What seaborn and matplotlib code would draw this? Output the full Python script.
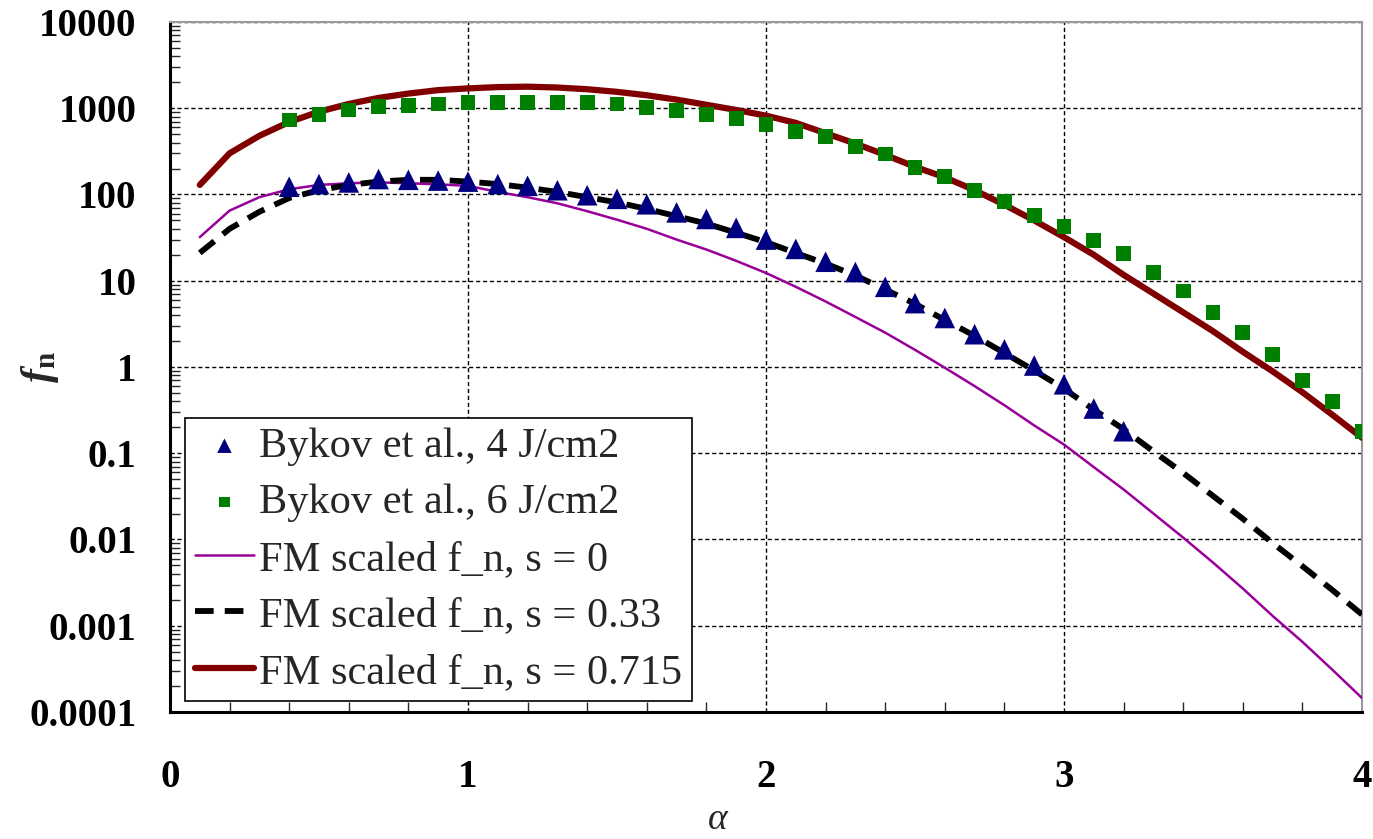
import numpy as np
import pandas as pd
import matplotlib
matplotlib.use("Agg")
import matplotlib.pyplot as plt
import matplotlib.ticker as mticker
import seaborn as sns

# ---------------- data ----------------
x_tri = [0.4, 0.5, 0.6, 0.7, 0.8, 0.9, 1.0, 1.1, 1.2, 1.3, 1.4, 1.5, 1.6, 1.7, 1.8,
         1.9, 2.0, 2.1, 2.2, 2.3, 2.4, 2.5, 2.6, 2.7, 2.8, 2.9, 3.0, 3.1, 3.2]
y_tri = [123, 132, 138, 151, 148, 145, 141, 132, 126, 112, 98, 89, 77, 62, 52,
         41, 30, 23.4, 16.6, 12.6, 8.5, 5.5, 3.7, 2.4, 1.6, 1.04, 0.63, 0.33, 0.18]

x_sq = [0.4, 0.5, 0.6, 0.7, 0.8, 0.9, 1.0, 1.1, 1.2, 1.3, 1.4, 1.5, 1.6, 1.7, 1.8,
        1.9, 2.0, 2.1, 2.2, 2.3, 2.4, 2.5, 2.6, 2.7, 2.8, 2.9, 3.0, 3.1, 3.2, 3.3,
        3.4, 3.5, 3.6, 3.7, 3.8, 3.9, 4.0]
y_sq = [731, 836, 955, 1045, 1070, 1120, 1170, 1170, 1170, 1170, 1170, 1120, 1010, 933, 851,
        759, 646, 537, 468, 363, 295, 204, 162, 112, 82, 57, 43, 29.6, 20.5, 12.6,
        7.6, 4.3, 2.5, 1.4, 0.69, 0.40, 0.18]

x_fm = [0.1, 0.2, 0.3, 0.4, 0.5, 0.6, 0.7, 0.8, 0.9, 1.0, 1.1, 1.2, 1.3, 1.4, 1.5,
        1.6, 1.7, 1.8, 1.9, 2.0, 2.1, 2.2, 2.3, 2.4, 2.5, 2.6, 2.7, 2.8, 2.9, 3.0,
        3.1, 3.2, 3.3, 3.4, 3.5, 3.6, 3.7, 3.8, 3.9, 4.0]
y_s0 = [32, 65, 93, 115, 129, 135, 138, 135, 131, 126, 107, 93, 79, 64, 51,
        40, 30, 23, 17, 12.3, 8.5, 5.75, 3.8, 2.5, 1.58, 0.98, 0.60, 0.36, 0.21, 0.126,
        0.069, 0.038, 0.020, 0.0105, 0.0054, 0.0027, 0.0013, 6.5e-4, 3.1e-4, 1.45e-4]
y_s033 = [21, 40, 63, 91, 112, 129, 141, 148, 148, 141, 132, 120, 107, 93, 81,
          68, 56, 46, 36, 28, 21, 15.8, 11.5, 7.9, 5.4, 3.5, 2.3, 1.45, 0.91, 0.56,
          0.32, 0.19, 0.105, 0.059, 0.032, 0.0174, 0.0091, 0.0049, 0.0026, 0.00135]
y_s0715 = [129, 300, 479, 692, 912, 1122, 1318, 1479, 1622, 1698, 1758, 1778, 1738, 1660, 1549,
           1413, 1259, 1096, 955, 820, 676, 513, 389, 288, 209, 158, 112, 76, 50, 32,
           20, 11.7, 7.1, 4.3, 2.6, 1.5, 0.89, 0.51, 0.28, 0.151]

labels = ["Bykov et al., 4 J/cm2", "Bykov et al., 6 J/cm2",
          "FM scaled f_n, s = 0", "FM scaled f_n, s = 0.33", "FM scaled f_n, s = 0.715"]
xticks = [0, 1, 2, 3, 4]
yticks = [1e-4, 1e-3, 1e-2, 1e-1, 1, 10, 100, 1000, 10000]
ytick_labels = ["0.0001", "0.001", "0.01", "0.1", "1", "10", "100", "1000", "10000"]

# ---------------- style ----------------
sns.set_theme(style="white")
plt.rcParams['font.family'] = ['Liberation Serif', 'DejaVu Serif']
plt.rcParams['mathtext.fontset'] = 'custom'
plt.rcParams['mathtext.rm'] = 'Liberation Serif'
plt.rcParams['mathtext.it'] = 'Liberation Serif:italic'
plt.rcParams['mathtext.bf'] = 'Liberation Serif:bold'
plt.rcParams['mathtext.bfit'] = 'Liberation Serif:italic:bold'

fig = plt.figure(figsize=(13.73, 8.39), dpi=100)
ax = fig.add_axes([0.1238, 0.1514, 0.8682, 0.8224])

df_fm = pd.DataFrame({"x": x_fm, "s0": y_s0, "s033": y_s033, "s0715": y_s0715})

sns.lineplot(data=df_fm, x="x", y="s0", color="#990099", linewidth=1.8,
             label=labels[2], ax=ax, zorder=3)
sns.lineplot(data=df_fm, x="x", y="s033", color="black", linewidth=4.2,
             linestyle=(0, (3.2, 1.9)), label=labels[3], ax=ax, zorder=3)
sns.lineplot(data=df_fm, x="x", y="s0715", color="#800000", linewidth=4.5,
             label=labels[4], ax=ax, zorder=3)
sns.scatterplot(x=x_tri, y=y_tri, marker="^", s=220, color="#000080",
                edgecolor="none", label=labels[0], ax=ax, zorder=4)
sns.scatterplot(x=x_sq, y=y_sq, marker="s", s=115, color="#008000",
                edgecolor="none", label=labels[1], ax=ax, zorder=4)

ax.set_yscale("log")
ax.set_xlim(0, 4)
ax.set_ylim(1e-4, 1e4)
ax.set_xticks(xticks)
ax.set_xticklabels([str(v) for v in xticks])
ax.set_yticks(yticks)
ax.set_yticklabels(ytick_labels)
ax.xaxis.set_minor_locator(mticker.MultipleLocator(0.2))
ax.yaxis.set_minor_locator(mticker.LogLocator(base=10, subs=np.arange(2, 10), numticks=20))
ax.yaxis.set_minor_formatter(mticker.NullFormatter())

for lab in ax.get_xticklabels() + ax.get_yticklabels():
    lab.set_fontweight("bold")
ax.tick_params(axis="both", which="major", direction="in", labelsize=28,
               colors="black")
ax.tick_params(axis="y", which="major", length=10, width=1.2, pad=24)
ax.tick_params(axis="x", which="major", length=10, width=1.2, pad=34)
ax.tick_params(axis="both", which="minor", direction="in", length=7, width=1.0,
               left=True, bottom=True)

ax.grid(True, which="major", color="black", linestyle=(0, (3, 2)), linewidth=1.0)
ax.set_axisbelow(True)

for side in ["left", "bottom"]:
    ax.spines[side].set_color("black")
    ax.spines[side].set_linewidth(2.2)
for side in ["top", "right"]:
    ax.spines[side].set_color("#999999")
    ax.spines[side].set_linewidth(1.5)

ax.set_xlabel("")
ax.set_ylabel("")
fig.text(718 / 1373, 1 - 829 / 839, "α", fontstyle="italic", fontsize=27,
         ha="center", va="baseline")
fig.text(40 / 1373, 1 - 367 / 839, r"$\mathbfit{f}_\mathbf{n}$", fontsize=30,
         rotation=90, ha="center", va="center")

handles, labs = ax.get_legend_handles_labels()
order = [labs.index(l) for l in labels]
leg = ax.legend([handles[i] for i in order], [labs[i] for i in order],
                loc="lower left", bbox_to_anchor=(0.013, 0.016), fontsize=30.5,
                frameon=True, fancybox=False, framealpha=1, edgecolor="black",
                handlelength=1.4, handletextpad=0.12, labelspacing=0.42,
                borderpad=0.22, borderaxespad=0.0, markerscale=0.7)
leg.get_frame().set_linewidth(1.2)

fig.savefig("out.png", dpi=100)
